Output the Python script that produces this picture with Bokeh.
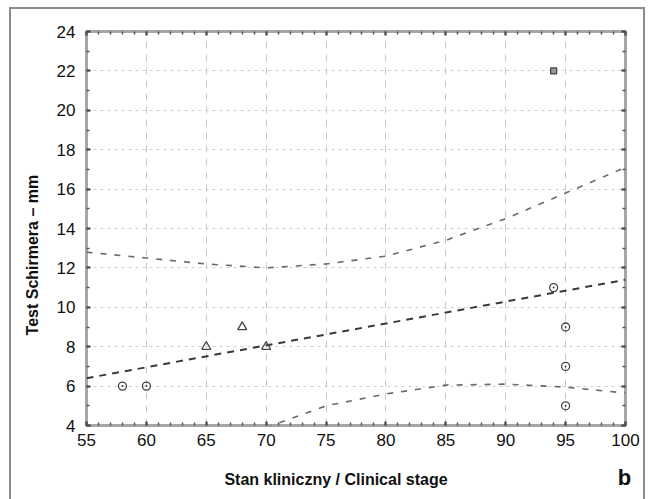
from bokeh.plotting import figure
from bokeh.models import Range1d, LinearAxis, SingleIntervalTicker, Label
from bokeh.embed import file_html
from bokeh.resources import INLINE
import math

# ---- data ----
circle_x = [58, 60, 94, 95, 95, 95]
circle_y = [6, 6, 11, 9, 7, 5]
tri_x = [65, 68, 70]
tri_y = [8, 9, 8]
sq_x = [94]
sq_y = [22]

fit_x = [55, 100]
fit_y = [6.4, 11.4]

upper_x = [55, 60, 65, 70, 75, 80, 85, 90, 95, 100]
upper_y = [12.8, 12.5, 12.2, 12.0, 12.2, 12.6, 13.4, 14.5, 15.8, 17.1]
lower_x = [70, 75, 80, 85, 90, 95, 100]
lower_y = [3.9, 5.0, 5.6, 6.05, 6.1, 5.95, 5.65]

x_label = "Stan kliniczny / Clinical stage"
y_label = "Test Schirmera \u2013 mm"
panel_label = "b"

FONT = "Liberation Sans"

p = figure(frame_width=539, frame_height=394, x_range=Range1d(55, 100), y_range=Range1d(4, 24),
           output_backend="svg", toolbar_location=None,
           min_border_left=75, min_border_right=18, min_border_top=22, min_border_bottom=80)
p.styles = {"border": "2px solid #8c8c8c", "margin-left": "9px", "margin-top": "7px"}
p.background_fill_color = "white"
p.border_fill_color = "white"
p.outline_line_color = "#a6a6a6"
p.outline_line_width = 3

xt = SingleIntervalTicker(interval=5, num_minor_ticks=5)
yt = SingleIntervalTicker(interval=2, num_minor_ticks=2)

def style_axis(ax, show_labels):
    ax.axis_line_color = None
    ax.major_tick_in = 4
    ax.major_tick_out = 0
    ax.minor_tick_in = 3
    ax.minor_tick_out = 0
    ax.major_tick_line_color = "#333333"
    ax.minor_tick_line_color = "#555555"
    ax.major_tick_line_width = 2
    ax.minor_tick_line_width = 1.5
    ax.major_label_text_font = FONT
    if show_labels:
        ax.major_label_text_font_size = "17px"
        ax.major_label_text_color = "#111111"
    else:
        ax.major_label_text_font_size = "8px"
        ax.major_label_text_color = None
        ax.major_label_standoff = 0

p.xaxis.ticker = xt
p.yaxis.ticker = yt
style_axis(p.xaxis[0], True)
style_axis(p.yaxis[0], True)
p.xaxis.major_label_standoff = 8
p.yaxis.major_label_standoff = 11

top = LinearAxis(ticker=SingleIntervalTicker(interval=5, num_minor_ticks=5))
right = LinearAxis(ticker=SingleIntervalTicker(interval=2, num_minor_ticks=2))
style_axis(top, False)
style_axis(right, False)
p.add_layout(top, "above")
p.add_layout(right, "right")

p.xgrid.ticker = xt
p.ygrid.ticker = yt
p.xgrid.grid_line_color = "#c8c8c8"
p.xgrid.grid_line_dash = "7 6"
p.xgrid.grid_line_width = 1
p.ygrid.grid_line_color = "#cfcfcf"
p.ygrid.grid_line_dash = "3 4"
p.ygrid.grid_line_width = 1

# confidence bands
p.line(upper_x, upper_y, line_color="#6a6a6a", line_width=1.6, line_dash="6 8")
p.line(lower_x, lower_y, line_color="#6a6a6a", line_width=1.6, line_dash="6 8")
# regression line
p.line(fit_x, fit_y, line_color="#3a3a3a", line_width=2, line_dash="7 6")

# points
p.scatter(circle_x, circle_y, marker="circle_dot", size=8, fill_color=None,
          line_color="#444444", line_width=1.3)
p.scatter(tri_x, tri_y, marker="triangle", size=9, fill_color=None,
          line_color="#444444", line_width=1.3)
p.scatter(sq_x, sq_y, marker="square", size=6, fill_color="#999999",
          line_color="#444444", line_width=1.2)

# text labels placed in the side panel (not clipped), positioned in data units
p.add_layout(Label(x=75.83, y=1.26, text=x_label, text_font=FONT, text_font_style="bold",
                   text_font_size="16px", text_align="center", text_baseline="middle",
                   text_color="#111111"), "below")
p.add_layout(Label(x=50.45, y=12.65, text=y_label, text_font=FONT, text_font_style="bold",
                   text_font_size="16px", text_align="center", text_baseline="middle",
                   angle=math.pi / 2, text_color="#111111"), "below")
p.add_layout(Label(x=99.92, y=1.36, text=panel_label, text_font=FONT, text_font_style="bold",
                   text_font_size="22px", text_align="center", text_baseline="middle",
                   text_color="#111111"), "below")

open("out.html", "w").write(file_html(p, INLINE))
